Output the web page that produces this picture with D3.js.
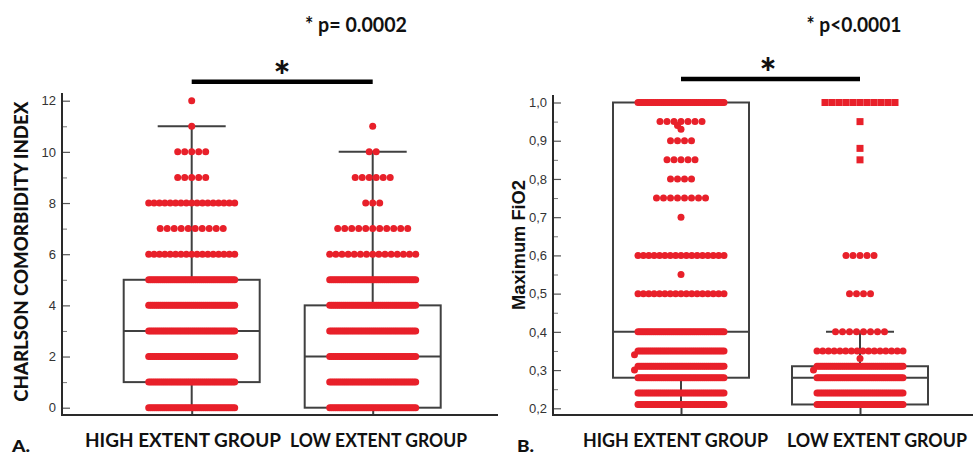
<!DOCTYPE html>
<html lang="en">
<head>
<meta charset="UTF-8">
<title>CCI and maximum FiO2 by extent group</title>
<script src="https://cdnjs.cloudflare.com/ajax/libs/d3/7.8.5/d3.min.js"></script>
<style>
  body { margin: 0; background: #fff; }
  svg { display: block; }
</style>
</head>
<body>
<div id="chart"></div>
<script>
// ---- data ----
var groups = ["HIGH EXTENT GROUP", "LOW EXTENT GROUP"];

// A. Charlson comorbidity index: [value, number of patients]
var cciTicks = [0, 2, 4, 6, 8, 10, 12];
var cciMinor = [1, 3, 5, 7, 9, 11];
var cciHigh = [[12,1],[11,1],[10,5],[9,5],[8,17],[7,10],[6,17],[5,45],[4,45],[3,45],[2,45],[1,45],[0,45]];
var cciLow  = [[11,1],[10,2],[9,6],[8,3],[7,11],[6,15],[5,45],[4,45],[3,45],[2,45],[1,45],[0,45]];
var cciQ1 = [1, 0];
var cciMedian = [3, 2];
var cciQ3 = [5, 4];
var cciWhiskerLo = [0, 0];
var cciWhiskerHi = [11, 10];

// B. Maximum FiO2
var fioTicks = [0.2, 0.3, 0.4, 0.5, 0.6, 0.7, 0.8, 0.9, 1.0];
var fioMinor = [0.25, 0.35, 0.45, 0.55, 0.65, 0.75, 0.85, 0.95];
var fioHigh = [[1.0,45],[0.95,7],[0.94,1],[0.93,1],[0.9,4],[0.85,5],[0.8,4],[0.75,8],[0.7,1],
               [0.6,17],[0.55,1],[0.5,17],[0.4,45],[0.35,45],[0.34,1],[0.31,45],[0.3,1],
               [0.28,45],[0.24,45],[0.21,45]];
var fioLow  = [[0.6,5],[0.5,4],[0.4,8],[0.35,16],[0.33,1],[0.31,45],[0.3,1],[0.28,45],[0.24,45],[0.21,45]];
var fioLowFar = [[1.0,11],[0.95,1],[0.88,1],[0.85,1]];   // far outliers, drawn as squares
var fioQ1 = [0.28, 0.21];
var fioMedian = [0.40, 0.28];
var fioQ3 = [1.0, 0.31];
var fioWhiskerLo = [0.21, 0.21];
var fioWhiskerHi = [1.0, 0.40];

// ---- layout ----
var width = 973, height = 455;
var red = "#e8202a", boxColor = "#404040";
var dotR = 3.5, maxSpan = 86, maxStep = 7, minGap = 5;
var boxHalf = 68, capHalf = 34;

var commaLocale = d3.formatLocale({decimal: ",", thousands: ".", grouping: [3], currency: ["", ""]});

var svg = d3.select("#chart").append("svg")
    .attr("width", width)
    .attr("height", height);

var panels = [
  {
    axisX: 62, axisTop: 93, axisBottom: 415, axisRight: 498,
    yDomain: [0, 12], yRange: [407.7, 100.7], xRange: [191.7, 372.7],
    ticks: cciTicks, minor: cciMinor, fmt: d3.format("d"),
    dots: [cciHigh, cciLow], squares: [[], []],
    q1: cciQ1, med: cciMedian, q3: cciQ3, lo: cciWhiskerLo, hi: cciWhiskerHi
  },
  {
    axisX: 553, axisTop: 95, axisBottom: 415, axisRight: 973,
    yDomain: [0.2, 1.0], yRange: [408.3, 102.5], xRange: [681, 860],
    ticks: fioTicks, minor: fioMinor, fmt: commaLocale.format(".1f"),
    dots: [fioHigh, fioLow], squares: [[], fioLowFar],
    q1: fioQ1, med: fioMedian, q3: fioQ3, lo: fioWhiskerLo, hi: fioWhiskerHi
  }
];

// rows of dots; a lone dot that would sit on a crowded row is pushed sideways
function layoutRows(rows, cx, y) {
  var placed = [];
  rows.slice().sort(function (a, b) { return b[0] - a[0]; }).forEach(function (r) {
    var yy = y(r[0]), n = r[1];
    if (n === 1) {
      for (var k = 0; k < 400; k++) {
        var off = k === 0 ? 0 : (k % 2 === 1 ? -1 : 1) * Math.ceil(k / 2) * 0.5;
        var xx = cx + off;
        var ok = placed.every(function (p) {
          return Math.hypot(p.x - xx, p.y - yy) >= minGap;
        });
        if (ok) { placed.push({x: xx, y: yy}); break; }
      }
    } else {
      var step = Math.min(maxStep, maxSpan / (n - 1));
      for (var i = 0; i < n; i++) {
        placed.push({x: cx + (i - (n - 1) / 2) * step, y: yy});
      }
    }
  });
  return placed;
}

panels.forEach(function (p) {
  var y = d3.scaleLinear().domain(p.yDomain).range(p.yRange);
  var x = d3.scalePoint().domain(groups).range(p.xRange);

  // y axis ticks (pointing inward)
  var yAxis = svg.append("g")
      .attr("transform", "translate(" + p.axisX + ",0)")
      .style("color", "#555")
      .call(d3.axisLeft(y).tickValues(p.ticks).tickFormat(p.fmt)
            .tickSizeInner(-8).tickSizeOuter(0).tickPadding(6));
  yAxis.select(".domain").remove();
  yAxis.selectAll("line").attr("stroke-width", 1.2);
  yAxis.selectAll("text")
      .attr("fill", "#333")
      .style("font-family", "'Liberation Sans', Arial, sans-serif")
      .style("font-size", "13px");

  var yMinor = svg.append("g")
      .attr("transform", "translate(" + p.axisX + ",0)")
      .style("color", "#777")
      .call(d3.axisLeft(y).tickValues(p.minor).tickFormat("").tickSizeInner(-5).tickSizeOuter(0));
  yMinor.select(".domain").remove();

  // x axis ticks at the group centres
  var xAxis = svg.append("g")
      .attr("transform", "translate(0," + p.axisBottom + ")")
      .style("color", boxColor)
      .call(d3.axisBottom(x).tickFormat("").tickSizeInner(-8).tickSizeOuter(0));
  xAxis.select(".domain").remove();
  xAxis.selectAll("line").attr("stroke-width", 2);

  // axis lines
  svg.append("path")
      .attr("d", "M" + p.axisX + "," + p.axisTop + "V" + p.axisBottom + "H" + p.axisRight)
      .attr("fill", "none")
      .attr("stroke", "#2a2a2a")
      .attr("stroke-width", 2);

  // boxes and whiskers
  groups.forEach(function (g, i) {
    var cx = x(g);
    var bg = svg.append("g")
        .attr("fill", "none")
        .attr("stroke", boxColor)
        .attr("stroke-width", 2);
    bg.append("line").attr("x1", cx).attr("x2", cx).attr("y1", y(p.q3[i])).attr("y2", y(p.hi[i]));
    bg.append("line").attr("x1", cx).attr("x2", cx).attr("y1", y(p.q1[i])).attr("y2", y(p.lo[i]));
    bg.append("line").attr("x1", cx - capHalf).attr("x2", cx + capHalf).attr("y1", y(p.hi[i])).attr("y2", y(p.hi[i]));
    bg.append("line").attr("x1", cx - capHalf).attr("x2", cx + capHalf).attr("y1", y(p.lo[i])).attr("y2", y(p.lo[i]));
    bg.append("rect")
        .attr("x", cx - boxHalf)
        .attr("y", y(p.q3[i]))
        .attr("width", boxHalf * 2)
        .attr("height", y(p.q1[i]) - y(p.q3[i]));
    bg.append("line").attr("x1", cx - boxHalf).attr("x2", cx + boxHalf).attr("y1", y(p.med[i])).attr("y2", y(p.med[i]));

    // dots
    svg.append("g").selectAll("circle")
        .data(layoutRows(p.dots[i], cx, y))
        .join("circle")
        .attr("cx", function (d) { return d.x; })
        .attr("cy", function (d) { return d.y; })
        .attr("r", dotR)
        .attr("fill", red);

    svg.append("g").selectAll("rect")
        .data(layoutRows(p.squares[i], cx, y))
        .join("rect")
        .attr("x", function (d) { return d.x - dotR; })
        .attr("y", function (d) { return d.y - dotR; })
        .attr("width", dotR * 2)
        .attr("height", dotR * 2)
        .attr("fill", red);
  });

  p.x = x;
});

// ---- text ----
var lato = "Lato, 'Open Sans', sans-serif";

function label(txt, x, y, size, len, opts) {
  opts = opts || {};
  var t = svg.append("text")
      .attr("x", x)
      .attr("y", y)
      .attr("text-anchor", opts.anchor || "middle")
      .style("font-family", opts.family || lato)
      .style("font-weight", opts.weight || "bold")
      .style("font-size", size + "px")
      .attr("fill", "#111")
      .text(txt);
  if (len) t.attr("textLength", len).attr("lengthAdjust", "spacingAndGlyphs");
  if (opts.rotate) t.attr("transform", "rotate(-90," + x + "," + y + ")");
  return t;
}

// category labels
label(groups[0], 183, 447, 18.5, 196);
label(groups[1], 378.5, 447, 18.5, 177);
label(groups[0], 675.5, 447, 18.5, 185);
label(groups[1], 877, 447, 18.5, 180);
label("A.", 12, 452, 17, 18, {anchor: "start", weight: 900});
label("B.", 517, 452, 17, 17, {anchor: "start", weight: 900});

// axis titles
label("CHARLSON COMORBIDITY INDEX", 28, 251.7, 18, 300, {rotate: true, weight: 900});
label("Maximum FiO2", 525, 245, 18, 130, {rotate: true, family: "'Liberation Sans', Arial, sans-serif"});

// p values and significance bars
label("* p= 0.0002", 356, 31.7, 20, 102);
label("* p<0.0001", 854, 31.7, 20, 95);

[[0, 81.7], [1, 79]].forEach(function (b) {
  var x = panels[b[0]].x;
  svg.append("line")
      .attr("x1", x(groups[0]))
      .attr("x2", x(groups[1]))
      .attr("y1", b[1])
      .attr("y2", b[1])
      .attr("stroke", "#000")
      .attr("stroke-width", 4.5);
});
label("*", 282, 91, 40, null, {weight: 900});
label("*", 768, 88, 40, null, {weight: 900});
</script>
</body>
</html>
